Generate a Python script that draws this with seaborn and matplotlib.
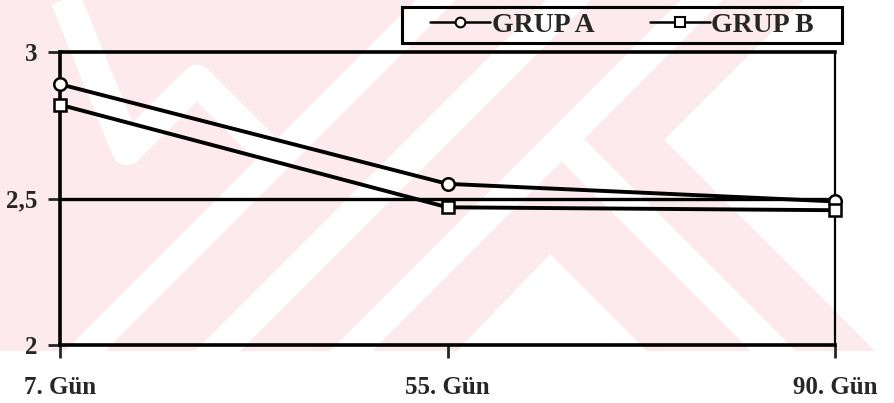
import pandas as pd
import matplotlib.pyplot as plt
import seaborn as sns
from matplotlib.lines import Line2D
from matplotlib.patches import Polygon, Rectangle

# ====================
#  DATA
# ====================

gunler = ['7. Gün', '55. Gün', '90. Gün']
grup_a = [2.89, 2.55, 2.49]
grup_b = [2.82, 2.47, 2.46]
gruplar = ['GRUP A', 'GRUP B']
y_ticks = [2, 2.5, 3]
y_tick_labels = ['2', '2,5', '3']

W, H = 894, 403
PINK = '#fdeaee'


# ==========================
#  BACKGROUND WATERMARK
# ==========================

def watermark(fig):
    # faint scanned watermark behind the chart, drawn in pixel space
    bg = fig.add_axes([0, 0, 1, 1], zorder=-10)
    bg.set_xlim(0, W)
    bg.set_ylim(H, 0)
    bg.axis('off')

    bottom = 351
    area = Rectangle((0, 0), 880, bottom, color=PINK, lw=0)
    bg.add_patch(area)

    white = []
    for x0, x1 in [(65, 105), (195, 240), (330, 372)]:
        white.append([(x0, bottom), (x1, bottom), (x1 + bottom, 0), (x0 + bottom, 0)])
    white.append([(457, bottom), (550, 254), (647, bottom)])
    white.append([(540, 140), (585, 140), (796, bottom), (751, bottom)])
    white.append([(664, 140), (804, 0), (880, 0), (880, bottom), (875, bottom)])
    for pts in white:
        p = Polygon(pts, closed=True, color='white', lw=0)
        bg.add_patch(p)
        p.set_clip_path(area)

    zig, = bg.plot([62, 127, 197, 280], [-10, 150, 80, 163], color='white',
                   lw=22, solid_joinstyle='round', solid_capstyle='butt')
    zig.set_clip_path(area)


# ====================
#  PLOT
# ====================

def main():
    sns.set_style('white')
    plt.rcParams['font.family'] = ['Liberation Serif', 'DejaVu Serif']
    plt.rcParams['font.weight'] = 'bold'

    df = pd.DataFrame({
        'gun': gunler * 2,
        'deger': grup_a + grup_b,
        'grup': [gruplar[0]] * len(gunler) + [gruplar[1]] * len(gunler),
    })

    fig = plt.figure(figsize=(W / 100, H / 100), dpi=100)
    watermark(fig)

    ax = fig.add_axes([60 / W, 1 - 345 / H, 775 / W, 293 / H])
    ax.patch.set_alpha(0)

    sns.lineplot(data=df, x='gun', y='deger', hue='grup', style='grup',
                 markers={'GRUP A': 'o', 'GRUP B': 's'}, dashes=False,
                 palette=['black', 'black'], sort=False, linewidth=2.8,
                 markersize=9, markerfacecolor='white', markeredgecolor='black',
                 markeredgewidth=1.8, clip_on=False, legend=False, ax=ax, zorder=5)

    ax.set_xlim(0, len(gunler) - 1)
    ax.set_ylim(y_ticks[0], y_ticks[-1])
    ax.set_yticks(y_ticks)
    ax.set_yticklabels(y_tick_labels)
    ax.set_xlabel('')
    ax.set_ylabel('')

    ax.axhline(2.5, color='black', lw=2.4, zorder=2)

    for side in ['left', 'bottom', 'top']:
        ax.spines[side].set_linewidth(2.6)
        ax.spines[side].set_color('black')
    ax.spines['right'].set_linewidth(1.6)
    ax.spines['right'].set_color('black')

    ax.tick_params(axis='y', direction='out', length=9, width=2, pad=7,
                   labelsize=18, left=True)
    ax.tick_params(axis='x', direction='out', length=9, width=2, pad=13,
                   labelsize=18, bottom=True)
    for lab in ax.get_xticklabels() + ax.get_yticklabels():
        lab.set_fontweight('bold')

    # legend box
    fig.add_artist(Rectangle((402 / W, 1 - 43 / H), 440 / W, 36 / H,
                             transform=fig.transFigure, fill=False,
                             edgecolor='black', lw=2.2))
    handles = [Line2D([], [], color='black', lw=1.8, marker=m, markersize=7,
                      markerfacecolor='white', markeredgecolor='black',
                      markeredgewidth=1.5) for m in ['o', 's']]
    fig.legend(handles, gruplar, ncol=2, loc='center',
               bbox_to_anchor=(622 / W, 1 - 25 / H), frameon=False,
               handlelength=2.15, handletextpad=0.05, columnspacing=2.0,
               borderpad=0.1, prop={'weight': 'bold', 'size': 20})

    fig.savefig('out.png', dpi=100, facecolor='white')


if __name__ == "__main__":
    main()
